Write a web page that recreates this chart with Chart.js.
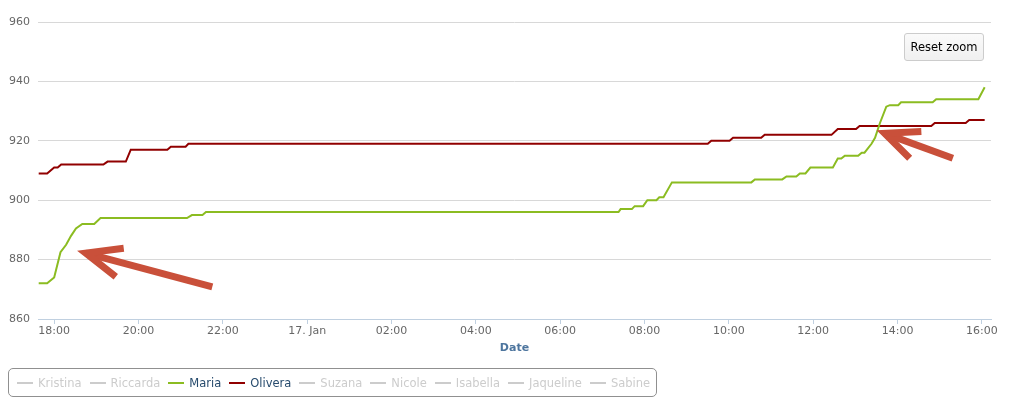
<!DOCTYPE html>
<html>
<head>
<meta charset="utf-8">
<script src="https://cdn.jsdelivr.net/npm/chart.js@4"></script>
<style>
	body { margin: 0; background: #fff; font-family: 'DejaVu Sans', Verdana, sans-serif; }
	#wrap { position: relative; width: 1011px; height: 404px; }
	#resetZoom {
		position: absolute; left: 904px; top: 33px; width: 80px; height: 28px;
		box-sizing: border-box; border: 1px solid #cccccc; border-radius: 3px;
		background: linear-gradient(#fafafa, #f0f0f0); color: #000;
		font: 11.5px 'DejaVu Sans', sans-serif; padding: 0; cursor: pointer;
	}
	#legend {
		position: absolute; left: 8px; top: 368px; width: 649px; height: 29px;
		box-sizing: border-box; border: 1px solid #909090; border-radius: 5px;
		display: flex; align-items: center; padding-left: 8px;
		font: 11.5px 'DejaVu Sans', sans-serif;
	}
	.item { display: flex; align-items: center; margin-right: 8px; white-space: nowrap; }
	.sym { width: 16px; height: 2px; margin-right: 5px; }
</style>
</head>
<body>
<div id="wrap">
	<canvas id="lineChart" width="1011" height="404"></canvas>
	<button id="resetZoom">Reset zoom</button>
	<div id="legend"></div>
</div>
<script>
// minutes since 16 Jan 00:00
const oliveraTimes = [1058, 1070, 1080, 1085, 1090, 1150, 1156, 1182, 1189, 1241, 1246, 1267, 1271,
	2010, 2015, 2041, 2046, 2086, 2091, 2186, 2195, 2221, 2226, 2328, 2333, 2377, 2382, 2404];
const oliveraValues = [909, 909, 911, 911, 912, 912, 913, 913, 917, 917, 918, 918, 919,
	919, 920, 920, 921, 921, 922, 922, 924, 924, 925, 925, 926, 926, 927, 927];

const mariaTimes = [1058, 1070, 1080, 1089, 1097, 1104, 1111, 1120, 1137, 1146, 1269, 1276, 1291, 1296,
	1883, 1886, 1902, 1906, 1918, 1924, 1937, 1941, 1947, 1959, 2072, 2077, 2116, 2122, 2136, 2141,
	2149, 2156, 2188, 2195, 2200, 2205, 2224, 2229, 2233, 2243, 2248, 2255, 2264, 2269, 2281, 2285,
	2330, 2335, 2395, 2404];
const mariaValues = [872, 872, 874, 882.5, 885, 888, 890.5, 892, 892, 894, 894, 895, 895, 896,
	896, 897, 897, 898, 898, 900, 900, 901, 901, 906, 906, 907, 907, 908, 908, 909,
	909, 911, 911, 914, 914, 915, 915, 916, 916, 919, 921, 926, 931.5, 932, 932, 933,
	933, 934, 934, 938];

const seriesNames = ['Kristina', 'Riccarda', 'Maria', 'Olivera', 'Suzana', 'Nicole', 'Isabella', 'Jaqueline', 'Sabine'];
const seriesColors = ['#2f7ed8', '#0d233a', '#8bbc21', '#910000', '#1aadce', '#492970', '#f28f43', '#77a1e5', '#c42525'];
const seriesVisible = [false, false, true, true, false, false, false, false, false];

const xTickValues = [1080, 1200, 1320, 1440, 1560, 1680, 1800, 1920, 2040, 2160, 2280, 2400];
const xTickLabels = ['18:00', '20:00', '22:00', '17. Jan', '02:00', '04:00', '06:00', '08:00', '10:00', '12:00', '14:00', '16:00'];
const yTickValues = [860, 880, 900, 920, 940, 960];

// arrows: [tipX, tipY, tailX, tailY, headAX, headAY, headBX, headBY] in data units
const arrowList = [
	[1125, 882.2, 1305, 870.8, 1179, 883.8, 1167.7, 874.2],
	[2261.7, 922.5, 2358.7, 914.1, 2313.9, 923.1, 2297.3, 914.1]
];

function toPoints(times, values) {
	return times.map((t, i) => ({ x: t, y: values[i] }));
}

// 범례 (HTML)
const legendEl = document.getElementById('legend');
seriesNames.forEach((name, i) => {
	const item = document.createElement('div');
	item.className = 'item';
	const sym = document.createElement('span');
	sym.className = 'sym';
	sym.style.background = seriesVisible[i] ? seriesColors[i] : '#cccccc';
	const txt = document.createElement('span');
	txt.textContent = name;
	txt.style.color = seriesVisible[i] ? '#274b6d' : '#cccccc';
	item.appendChild(sym);
	item.appendChild(txt);
	legendEl.appendChild(item);
});

const arrowPlugin = {
	id: 'arrows',
	afterDatasetsDraw(chart) {
		const ctx = chart.ctx;
		const xs = chart.scales.x, ys = chart.scales.y;
		ctx.save();
		ctx.strokeStyle = '#c9503a';
		ctx.lineWidth = 7;
		ctx.lineCap = 'butt';
		ctx.lineJoin = 'miter';
		arrowList.forEach(a => {
			const px = v => xs.getPixelForValue(v);
			const py = v => ys.getPixelForValue(v);
			ctx.beginPath();
			ctx.moveTo(px(a[2]), py(a[3]));
			ctx.lineTo(px(a[0]), py(a[1]));
			ctx.stroke();
			ctx.beginPath();
			ctx.moveTo(px(a[4]), py(a[5]));
			ctx.lineTo(px(a[0]), py(a[1]));
			ctx.lineTo(px(a[6]), py(a[7]));
			ctx.stroke();
		});
		ctx.restore();
	}
};

Chart.defaults.font.family = "'DejaVu Sans', Verdana, sans-serif";

new Chart(document.getElementById('lineChart'), {
	type: 'line',
	data: {
		datasets: [
			{
				label: 'Maria',
				data: toPoints(mariaTimes, mariaValues),
				borderColor: seriesColors[2],
				borderWidth: 2,
				pointRadius: 0,
				tension: 0
			},
			{
				label: 'Olivera',
				data: toPoints(oliveraTimes, oliveraValues),
				borderColor: seriesColors[3],
				borderWidth: 2,
				pointRadius: 0,
				tension: 0
			}
		]
	},
	options: {
		responsive: false,
		animation: false,
		layout: { padding: { left: 0, right: 20, top: 22, bottom: 49 } },
		plugins: {
			legend: { display: false },
			tooltip: { enabled: false }
		},
		scales: {
			x: {
				type: 'linear',
				min: 1057,
				max: 2413,
				afterBuildTicks: axis => { axis.ticks = xTickValues.map(v => ({ value: v })); },
				afterFit: axis => { axis.height = 36; },
				grid: { drawOnChartArea: false, drawTicks: true, tickLength: 5, color: '#C0D0E0' },
				border: { display: true, color: '#C0D0E0', width: 1 },
				ticks: {
					autoSkip: false,
					maxRotation: 0,
					padding: 1,
					color: '#666666',
					font: { size: 11 },
					callback: (value, index) => xTickLabels[index]
				},
				title: {
					display: true,
					text: 'Date',
					color: '#4d759e',
					font: { size: 11, weight: 'bold' },
					padding: { top: 0, bottom: 0 }
				}
			},
			y: {
				min: 860,
				max: 960,
				afterBuildTicks: axis => { axis.ticks = yTickValues.map(v => ({ value: v })); },
				afterFit: axis => { axis.width = 38; },
				grid: { color: '#d8d8d8', drawTicks: false },
				border: { display: false },
				ticks: { padding: 8, color: '#666666', font: { size: 11 } }
			}
		}
	},
	plugins: [arrowPlugin]
});
</script>
</body>
</html>
